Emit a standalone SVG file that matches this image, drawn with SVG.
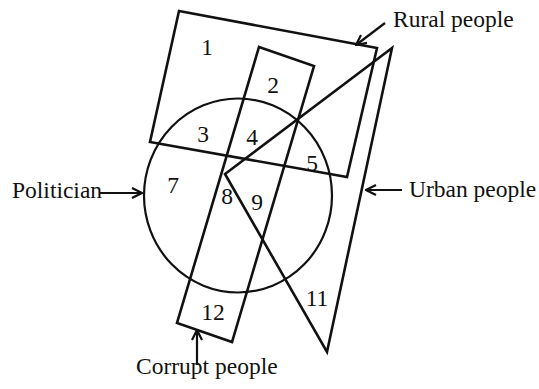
<svg xmlns="http://www.w3.org/2000/svg" width="539" height="389" viewBox="0 0 539 389">
<style>
.s{fill:none;stroke:#111;stroke-width:2.6;stroke-linejoin:miter}
.c{fill:none;stroke:#111;stroke-width:2.2}
.a{fill:none;stroke:#111;stroke-width:2.2}
text{font-family:"Liberation Serif","Times New Roman",serif;font-size:23.5px;fill:#111}
.n{text-anchor:middle;dominant-baseline:central}
</style>
<defs>
<marker id="ah" viewBox="0 0 12 12" refX="11" refY="6" markerWidth="12" markerHeight="12" markerUnits="userSpaceOnUse" orient="auto">
<path d="M1,1 L11,6 L1,11" fill="none" stroke="#111" stroke-width="2.2"/>
</marker>
</defs>
<g id="rural"><polygon class="s" points="179,11 377,48 347,177 150,142"/></g>
<g id="corrupt"><polygon class="s" points="259,47 314,66 232,342 177,323"/></g>
<g id="urban"><polygon class="s" points="392,48 225,174 327,352"/></g>
<g id="politician"><ellipse class="c" cx="238" cy="195.5" rx="94" ry="97"/></g>
<g id="regions">
<text class="n" x="207" y="47">1</text>
<text class="n" x="273" y="85">2</text>
<text class="n" x="203" y="134">3</text>
<text class="n" x="252" y="137">4</text>
<text class="n" x="312" y="163">5</text>
<text class="n" x="173" y="185">7</text>
<text class="n" x="227" y="196">8</text>
<text class="n" x="257" y="202">9</text>
<text class="n" x="317" y="298">11</text>
<text class="n" x="213" y="312">12</text>
</g>
<g id="connectors">
<line class="a" x1="385" y1="23" x2="356" y2="45" marker-end="url(#ah)"/>
<line class="a" x1="402" y1="190" x2="366" y2="190" marker-end="url(#ah)"/>
<line class="a" x1="100" y1="193" x2="142" y2="193" marker-end="url(#ah)"/>
<line class="a" x1="197" y1="365" x2="197" y2="330" marker-end="url(#ah)"/>
</g>
<g id="labels">
<text x="393" y="27">Rural people</text>
<text x="409" y="197">Urban people</text>
<text x="12" y="198">Politician</text>
<text x="136" y="374">Corrupt people</text>
</g>
</svg>
